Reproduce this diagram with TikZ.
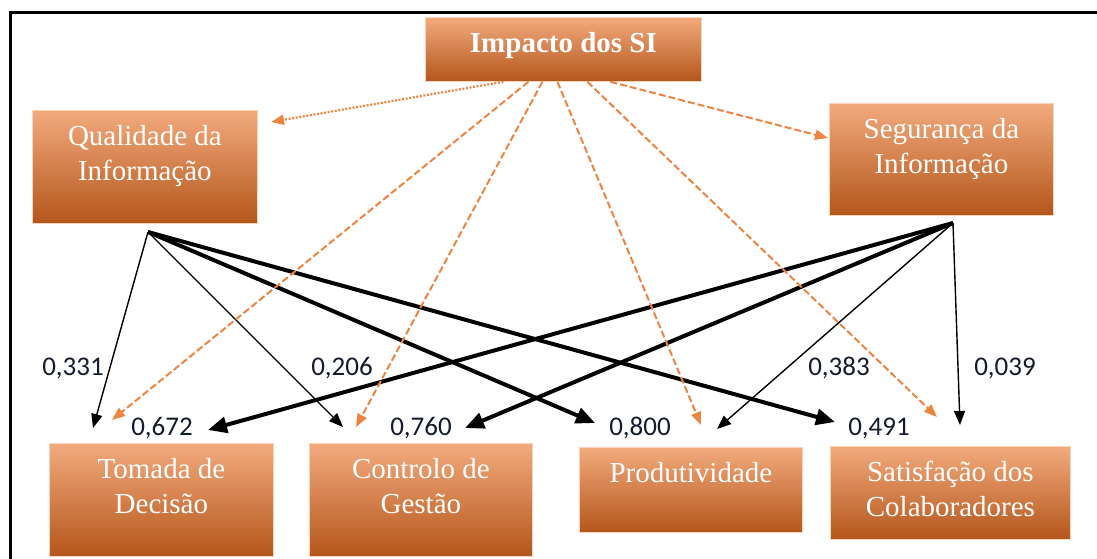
\documentclass[tikz,border=0pt]{standalone}
\usepackage{fontspec}
\setmainfont{Liberation Serif}
\newfontfamily\coeffont{Carlito}
\usetikzlibrary{arrows.meta}

\definecolor{boxtop}{HTML}{F2AA7D}
\definecolor{boxmid}{HTML}{EC7E34}
\definecolor{boxbot}{HTML}{B4561B}
\definecolor{boxedge}{HTML}{F9D3BA}
\definecolor{linkorange}{HTML}{EE8440}
\definecolor{coefcol}{HTML}{141B2E}

\begin{document}
\begin{tikzpicture}[x=1pt,y=-1pt,
  box/.style={rectangle, anchor=north west, top color=boxtop, middle color=boxmid,
    bottom color=boxbot, draw=boxedge, line width=0.8pt, inner sep=0pt},
  boxtext/.style={anchor=north, align=center, text=white, inner sep=0pt,
    font=\fontsize{29}{35}\selectfont},
  coef/.style={anchor=base, inner sep=0pt, text=coefcol,
    font=\coeffont\fontsize{27}{27}\selectfont},
  thinlink/.style={line width=1.4pt, -{Triangle[length=14pt,width=11pt]}},
  thicklink/.style={line width=4pt, -{Triangle[length=19pt,width=16pt]}},
  impactlink/.style={linkorange, line width=2pt, dash pattern=on 7pt off 3pt,
    -{Triangle[length=13pt,width=10pt]}},
  dotlink/.style={linkorange, line width=2.2pt, dash pattern=on 2pt off 1.6pt,
    -{Triangle[length=13pt,width=10pt]}},
  frame/.style={line width=3pt, black}
]
\useasboundingbox (0,0) rectangle (1097,559);

% outer frame (top and left edges)
\draw[frame] (10,559) |- (1100,13);

% boxes
\node[box, minimum width=276pt, minimum height=64pt]  (imp)  at (425,17)  {};
\node[box, minimum width=225pt, minimum height=113pt] (qi)   at (32,110)  {};
\node[box, minimum width=224pt, minimum height=112pt] (seg)  at (829,103) {};
\node[box, minimum width=224pt, minimum height=113pt] (tom)  at (49,443)  {};
\node[box, minimum width=223pt, minimum height=113pt] (ctl)  at (309,443) {};
\node[box, minimum width=223pt, minimum height=85pt]  (prod) at (579,447) {};
\node[box, minimum width=240pt, minimum height=93pt]  (sat)  at (830,446) {};

% box captions
\node[boxtext] (impT)  at ([yshift=-15pt]imp.north)  {\bfseries Impacto dos SI};
\node[boxtext] (qiT)   at ([yshift=-15pt]qi.north)   {Qualidade da\\Informação};
\node[boxtext] (segT)  at ([yshift=-15pt]seg.north)  {Segurança da\\Informação};
\node[boxtext] (tomT)  at ([yshift=-15pt]tom.north)  {Tomada de\\Decisão};
\node[boxtext] (ctlT)  at ([yshift=-15pt]ctl.north)  {Controlo de\\Gestão};
\node[boxtext] (prodT) at ([yshift=-15pt]prod.north) {Produtividade};
\node[boxtext] (satT)  at ([yshift=-15pt]sat.north)  {Satisfação dos\\Colaboradores};

% origins of the paths
\coordinate (qiS) at (148,232);
\coordinate (segS) at (953,223);

% arrow ends above the outcome boxes
\coordinate (tomQ) at (93,428);
\coordinate (tomS) at (208,430);
\coordinate (tomI) at (112,420);
\coordinate (ctlQ) at (343,427);
\coordinate (ctlS) at (465,428);
\coordinate (ctlI) at (356,427);
\coordinate (prodQ) at (595,423);
\coordinate (prodS) at (717,429);
\coordinate (prodI) at (701,425);
\coordinate (satQ) at (835,422);
\coordinate (satS) at (960,425);
\coordinate (satI) at (937,417);
\coordinate (qiI) at (271,122);
\coordinate (segI) at (828,138);

% paths from Qualidade da Informação
\draw[thinlink]  (qiS) -- (tomQ);
\draw[thinlink]  (qiS) -- (ctlQ);
\draw[thicklink] (qiS) -- (prodQ);
\draw[thicklink] (qiS) -- (satQ);

% paths from Segurança da Informação
\draw[thicklink] (segS) -- (tomS);
\draw[thicklink] (segS) -- (ctlS);
\draw[thinlink]  (segS) -- (prodS);
\draw[thinlink]  (segS) -- (satS);

% links from Impacto dos SI
\draw[dotlink]    ([xshift=-60pt]imp.south) -- (qiI);
\draw[impactlink] ([xshift=-35pt]imp.south) -- (tomI);
\draw[impactlink] ([xshift=-21pt]imp.south) -- (ctlI);
\draw[impactlink] ([xshift=-6pt]imp.south)  -- (prodI);
\draw[impactlink] ([xshift=24pt]imp.south)  -- (satI);
\draw[impactlink] ([xshift=47pt]imp.south)  -- (segI);

% path coefficients
\node[coef] (c331) at (73,375)   {0,331};
\node[coef] (c206) at (342,375)  {0,206};
\node[coef] (c383) at (839,375)  {0,383};
\node[coef] (c039) at (1005,375) {0,039};
\node[coef] (c672) at (162,435)  {0,672};
\node[coef] (c760) at (421,435)  {0,760};
\node[coef] (c800) at (640,435)  {0,800};
\node[coef] (c491) at (879,435)  {0,491};
\end{tikzpicture}
\end{document}
